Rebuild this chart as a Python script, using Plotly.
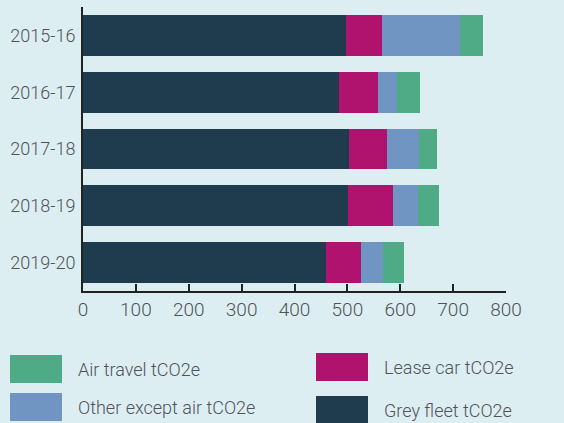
import plotly.graph_objects as go

years = ["2015-16", "2016-17", "2017-18", "2018-19", "2019-20"]
grey_fleet = [498, 484, 503, 501, 460]
lease_car = [67, 73, 71, 85, 66]
other_except_air = [148, 37, 61, 48, 41]
air_travel = [43, 44, 35, 39, 40]

series = [
    ("Grey fleet tCO2e", grey_fleet, "#1f3c4e"),
    ("Lease car tCO2e", lease_car, "#b0136e"),
    ("Other except air tCO2e", other_except_air, "#7195c2"),
    ("Air travel tCO2e", air_travel, "#4faa86"),
]

BG = "#ddeef3"
FONT = "Roboto"
TXT = "#4f5356"

fig = go.Figure()
for name, vals, col in series:
    fig.add_trace(go.Bar(y=years, x=vals, name=name, orientation="h",
                         marker=dict(color=col, line=dict(width=0)),
                         showlegend=False))

fig.update_layout(
    barmode="stack", bargap=0.28,
    width=564, height=423,
    margin=dict(l=83, r=58, t=7, b=132),
    paper_bgcolor=BG, plot_bgcolor=BG,
    font=dict(family=FONT, color=TXT, size=18),
)
fig.update_xaxes(range=[0, 800], dtick=100, showgrid=False, zeroline=False,
                 showline=True, linecolor="#222", linewidth=2, automargin=False,
                 ticks="inside", ticklen=7, tickcolor="#222", tickwidth=2,
                 ticklabelstandoff=0,
                 tickfont=dict(size=19, color=TXT, family=FONT, weight=300))
fig.update_yaxes(autorange="reversed", showgrid=False, showline=True, automargin=False,
                 linecolor="#222", linewidth=2, ticks="", ticklabelstandoff=2,
                 tickfont=dict(size=18, color=TXT, family=FONT, weight=300))

# custom legend (2 x 2) with large swatches
legend_items = [
    ("Air travel tCO2e", "#4faa86", 10, 354),
    ("Other except air tCO2e", "#7195c2", 10, 392),
    ("Lease car tCO2e", "#b0136e", 316, 352),
    ("Grey fleet tCO2e", "#1f3c4e", 316, 395),
]
for label, col, px, py in legend_items:
    fig.add_shape(type="rect", xref="paper", yref="paper",
                  x0=(px - 83) / 423, x1=(px + 52 - 83) / 423,
                  y0=(290 - py - 28) / 284, y1=(290 - py) / 284,
                  fillcolor=col, line=dict(width=0))
    fig.add_annotation(xref="paper", yref="paper",
                       x=(px + 66 - 83) / 423, y=(290 - py - 14) / 284,
                       text=label, showarrow=False, xanchor="left", yanchor="middle",
                       font=dict(size=18, color=TXT, family=FONT, weight=300))

fig.write_html("out.html")
